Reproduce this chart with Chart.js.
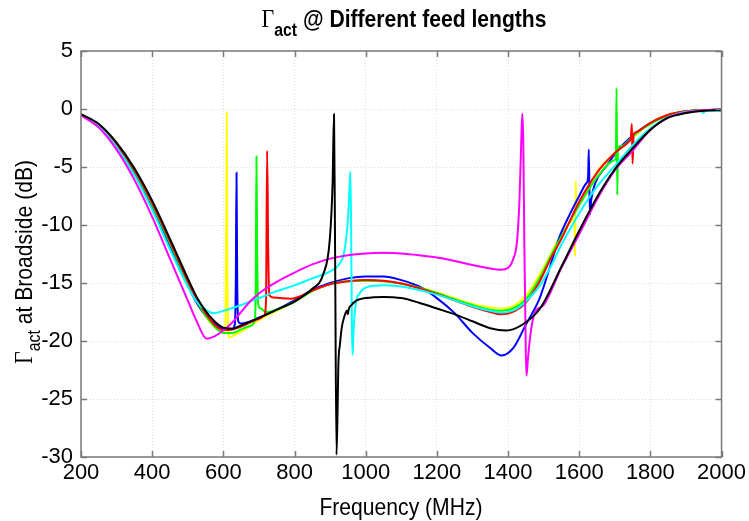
<!DOCTYPE html>
<html><head><meta charset="utf-8">
<script src="https://cdn.jsdelivr.net/npm/chart.js@4.4.1/dist/chart.umd.min.js"></script>
<style>html,body{margin:0;padding:0;background:#fff;}#wrap{position:relative;width:749px;height:521px;}</style>
</head><body><div id="wrap"><canvas id="c" width="749" height="521"></canvas></div>
<script>
const xTicks = [200,400,600,800,1000,1200,1400,1600,1800,2000];
const yTicks = [-30,-25,-20,-15,-10,-5,0,5];

const freqYellow = [200,250,300,350,400,450,500,525,550,575,600,606,608.5,609.5,611,614,618,630,650,700,750,800,850,900,950,1000,1050,1100,1150,1200,1250,1300,1350,1380,1420,1450,1490,1520,1550,1580,1587,1588.5,1590,1592,1600,1620,1650,1700,1750,1800,1850,1900,1950,2000];
const gammaYellow = [-0.48,-1.37,-3.05,-5.35,-8.25,-11.55,-15.0,-16.6,-17.85,-18.8,-19.2,-18.6,-8,-0.3,-12,-19.3,-19.7,-19.5,-19.2,-18.2,-17.4,-16.6,-15.7,-15.1,-14.85,-14.8,-14.85,-15.05,-15.35,-15.8,-16.3,-16.8,-17.1,-17.2,-16.9,-16.1,-14.2,-12.5,-10.8,-9.6,-9.5,-12.7,-6.2,-8.6,-8.2,-7.2,-5.4,-3.8,-2.5,-1.2,-0.5,-0.2,-0.1,-0.05];

const freqBlue = [200,250,300,350,400,450,500,525,550,575,600,625,632,635,637,639,642,650,700,750,800,850,900,950,1000,1050,1100,1150,1200,1250,1300,1350,1382,1415,1450,1489,1520,1545,1575,1600,1620,1625,1627,1630,1634,1645,1677,1710,1750,1790,1850,1900,1950,2000];
const gammaBlue = [-0.5,-1.42,-3.15,-5.5,-8.45,-11.8,-15.2,-16.7,-17.8,-18.5,-18.95,-18.95,-18.6,-15,-5.5,-15,-18.3,-18.5,-18.0,-17.3,-16.5,-15.6,-15.0,-14.6,-14.45,-14.45,-14.75,-15.3,-16.3,-17.6,-19.3,-20.6,-21.25,-20.6,-18.6,-16.3,-13.4,-11.0,-9.0,-7.5,-6.4,-5.9,-3.5,-9.1,-7.8,-6.4,-4.9,-3.5,-2.3,-1.4,-0.55,-0.2,-0.1,-0.05];

const freqGreen = [200,250,300,350,400,450,500,525,550,575,600,625,650,675,688,691,693,695,698,705,720,750,800,850,900,950,1000,1050,1100,1150,1200,1250,1300,1350,1380,1420,1450,1490,1520,1550,1600,1650,1700,1703,1705,1707,1709,1720,1740,1760,1800,1850,1900,1950,2000];
const gammaGreen = [-0.48,-1.37,-3.05,-5.35,-8.25,-11.55,-15.0,-16.55,-17.8,-18.75,-19.3,-19.3,-19.0,-18.7,-18.3,-15.5,-4.1,-12.0,-16.8,-17.2,-17.5,-17.3,-16.6,-15.7,-15.1,-14.85,-14.8,-14.85,-15.05,-15.4,-15.85,-16.4,-16.9,-17.3,-17.4,-17.1,-16.4,-14.5,-12.7,-11.0,-8.3,-5.9,-4.4,-4.2,1.8,-7.4,-3.3,-3.2,-2.7,-2.1,-1.3,-0.55,-0.2,-0.1,-0.05];

const freqRed = [200,250,300,350,400,450,500,525,550,575,600,625,650,700,715,720,723,726,729,740,760,790,820,850,900,950,1000,1050,1100,1150,1200,1250,1300,1350,1380,1420,1450,1490,1520,1550,1600,1650,1700,1740,1745,1748,1750,1753,1760,1780,1800,1850,1900,1950,2000];
const gammaRed = [-0.47,-1.35,-3.0,-5.25,-8.1,-11.4,-14.85,-16.4,-17.6,-18.6,-19.05,-19.0,-18.75,-18.1,-17.8,-16.5,-3.6,-12.0,-16.0,-16.25,-16.3,-16.35,-16.1,-15.65,-15.1,-14.85,-14.75,-14.8,-15.05,-15.45,-15.95,-16.5,-17.05,-17.5,-17.7,-17.4,-16.7,-14.8,-12.9,-11.2,-8.0,-5.5,-3.8,-2.8,-2.5,-1.3,-4.7,-2.2,-2.0,-1.6,-1.2,-0.5,-0.2,-0.1,-0.05];

const freqCyan = [200,250,300,350,400,450,500,525,550,572,600,650,700,750,800,850,900,925,940,950,955,957,959,961,963,966,972,983,1000,1050,1100,1150,1200,1250,1300,1350,1380,1420,1450,1490,1520,1550,1600,1640,1700,1780,1850,1900,1940,1948,1956,2000];
const gammaCyan = [-0.52,-1.48,-3.3,-5.7,-8.7,-12.1,-15.3,-16.6,-17.3,-17.6,-17.4,-16.9,-16.3,-15.7,-15.2,-14.6,-14.0,-13.4,-12.3,-9.5,-6.5,-5.4,-10,-18,-21.2,-19.0,-16.8,-15.9,-15.4,-15.2,-15.3,-15.6,-16.0,-16.5,-17.0,-17.4,-17.55,-17.3,-16.6,-15.2,-13.6,-11.7,-9.0,-7.1,-4.9,-2.2,-0.7,-0.25,-0.12,-0.35,-0.15,-0.15];

const freqMagenta = [200,250,300,350,400,450,500,525,553,575,600,625,650,675,700,750,800,850,900,950,1000,1050,1100,1150,1200,1250,1300,1350,1380,1400,1415,1425,1432,1437,1440,1443,1446,1450,1452,1456,1465,1475,1500,1550,1600,1650,1700,1750,1800,1850,1900,1950,2000];
const gammaMagenta = [-0.55,-1.6,-3.5,-6.1,-9.3,-12.9,-16.5,-18.3,-19.8,-19.6,-19.1,-18.4,-17.5,-16.6,-15.9,-14.9,-14.1,-13.4,-12.9,-12.6,-12.45,-12.4,-12.45,-12.6,-12.8,-13.1,-13.45,-13.75,-13.85,-13.7,-12.9,-11.5,-8,-3,-0.4,-3,-12,-21,-23.0,-21.5,-19.0,-17.6,-16.9,-13.7,-10.8,-7.8,-5.3,-3.6,-1.8,-0.75,-0.3,-0.1,-0.05];

const freqBlack = [200,250,300,350,400,450,500,525,550,575,600,625,650,700,750,800,850,880,899,907,911,914,918,921,923,928,933,940,947,950,952,960,975,1000,1050,1100,1150,1200,1250,1300,1350,1395,1440,1490,1550,1600,1650,1700,1750,1800,1850,1900,1950,2000];
const gammaBlack = [-0.45,-1.3,-2.9,-5.1,-7.9,-11.2,-14.6,-16.2,-17.4,-18.3,-18.85,-18.95,-18.65,-18.0,-17.3,-16.6,-15.5,-14.3,-11.3,-6.4,-0.45,-12,-29.8,-26,-22.3,-20.2,-18.8,-17.9,-17.4,-17.7,-17.3,-16.9,-16.5,-16.3,-16.2,-16.3,-16.7,-17.2,-17.7,-18.3,-18.9,-19.1,-18.6,-17.2,-13.6,-10.5,-7.6,-5.2,-3.4,-1.8,-0.75,-0.35,-0.15,-0.1];

const FONT = "'Liberation Sans', Arial, sans-serif";
const SERIF = "'Liberation Serif', 'Times New Roman', serif";
const SQUEEZE = 0.88;

function pts(f, g) { return f.map((x, i) => ({x: x, y: g[i]})); }
function ds(f, g, color, order) {
  return {data: pts(f, g), borderColor: color, backgroundColor: color, borderWidth: 2,
    pointRadius: 0, fill: false, cubicInterpolationMode: 'monotone', order: order};
}

// draws [text, font, baselineShift] runs centred on (0,0) in the current transform
function drawRuns(ctx, runs) {
  let total = 0;
  const widths = runs.map(r => { ctx.font = r[1]; const w = ctx.measureText(r[0]).width; total += w; return w; });
  let x = -total / 2;
  ctx.textAlign = 'left';
  runs.forEach((r, i) => { ctx.font = r[1]; ctx.fillText(r[0], x, r[2]); x += widths[i]; });
}

const decor = {
  id: 'decor',
  afterDraw(chart) {
    const ctx = chart.ctx, a = chart.chartArea, xs = chart.scales.x, ys = chart.scales.y;
    ctx.save();
    ctx.strokeStyle = '#7a7a7a';
    ctx.lineWidth = 1.5;
    ctx.beginPath();
    xTicks.forEach(v => {
      const p = Math.round(xs.getPixelForValue(v)) + 0.5;
      ctx.moveTo(p, a.bottom); ctx.lineTo(p, a.bottom - 6);
      ctx.moveTo(p, a.top); ctx.lineTo(p, a.top + 6);
    });
    yTicks.forEach(v => {
      const p = Math.round(ys.getPixelForValue(v)) + 0.5;
      ctx.moveTo(a.left, p); ctx.lineTo(a.left + 6, p);
      ctx.moveTo(a.right, p); ctx.lineTo(a.right - 6, p);
    });
    ctx.stroke();
    ctx.strokeRect(a.left, a.top, a.right - a.left, a.bottom - a.top);
    ctx.restore();

    ctx.save();
    ctx.fillStyle = '#000';
    ctx.textBaseline = 'alphabetic';
    // Title
    ctx.save();
    ctx.translate(404, 27);
    ctx.scale(SQUEEZE, 1);
    drawRuns(ctx, [['Γ', '25px ' + SERIF, 0], ['act', 'bold 18px ' + FONT, 9], [' @ Different feed lengths', 'bold 24px ' + FONT, 0]]);
    ctx.restore();

    // X label
    ctx.save();
    ctx.translate(401, 515);
    ctx.scale(SQUEEZE, 1);
    drawRuns(ctx, [['Frequency (MHz)', '24px ' + FONT, 0]]);
    ctx.restore();

    // Y label (rotated)
    ctx.save();
    ctx.translate(32, 262);
    ctx.rotate(-Math.PI / 2);
    ctx.scale(SQUEEZE, 1);
    drawRuns(ctx, [['Γ', '25px ' + SERIF, 0], ['act', '18px ' + FONT, 8], [' at Broadside (dB)', '24px ' + FONT, 0]]);
    ctx.restore();
    ctx.restore();
  }
};

new Chart(document.getElementById('c'), {
  type: 'line',
  data: {
    datasets: [
      ds(freqYellow, gammaYellow, '#ffff00', 7),
      ds(freqBlue, gammaBlue, '#0000ff', 6),
      ds(freqGreen, gammaGreen, '#00ff00', 5),
      ds(freqRed, gammaRed, '#ff0000', 4),
      ds(freqCyan, gammaCyan, '#00ffff', 3),
      ds(freqMagenta, gammaMagenta, '#ff00ff', 2),
      ds(freqBlack, gammaBlack, '#000000', 1)
    ]
  },
  options: {
    responsive: false, animation: false, devicePixelRatio: 1,
    layout: {padding: {top: 51, right: 27, left: 0, bottom: 0}},
    plugins: {legend: {display: false}, tooltip: {enabled: false}, title: {display: false}},
    scales: {
      x: {
        type: 'linear', min: 200, max: 2000,
        afterBuildTicks: s => { s.ticks = xTicks.map(v => ({value: v})); },
        afterFit: s => { s.height = 64; },
        ticks: {font: {family: FONT, size: 22}, color: '#000', padding: 3, maxRotation: 0, autoSkip: false,
          callback: v => String(v)},
        grid: {color: '#dedede', lineWidth: 1, drawTicks: false},
        border: {display: false, dash: [1, 2]}
      },
      y: {
        type: 'linear', min: -30, max: 5,
        afterBuildTicks: s => { s.ticks = yTicks.map(v => ({value: v})); },
        afterFit: s => { s.width = 81; },
        ticks: {font: {family: FONT, size: 22}, color: '#000', padding: 8, autoSkip: false,
          callback: v => String(v)},
        grid: {color: '#dedede', lineWidth: 1, drawTicks: false},
        border: {display: false, dash: [1, 2]}
      }
    }
  },
  plugins: [decor]
});
</script></body></html>
